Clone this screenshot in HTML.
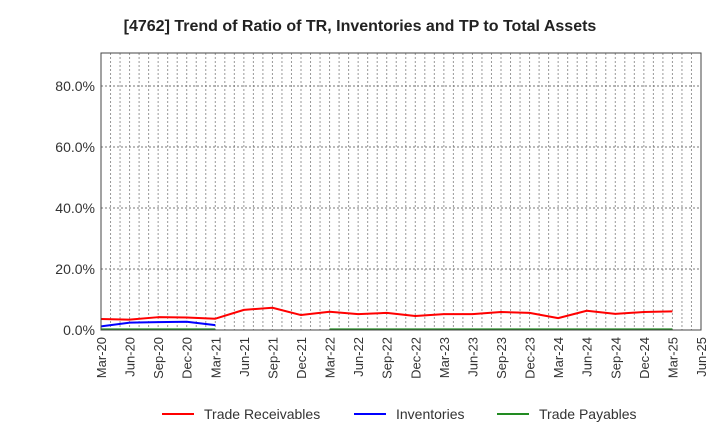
<!DOCTYPE html>
<html><head><meta charset="utf-8"><style>
body{margin:0;background:#fff;font-family:"Liberation Sans",Arial,sans-serif;}
svg text{font-family:"Liberation Sans",Arial,sans-serif;}
</style></head><body>
<svg id="chart" width="720" height="440" viewBox="0 0 720 440">
<text x="360" y="31" text-anchor="middle" font-size="16" font-weight="bold" fill="#222">[4762]  Trend of Ratio of TR, Inventories and TP to Total Assets</text>
<g id="grid"></g>
<g id="yaxis"></g>
<g id="xaxis"></g>
<g id="series"></g>
<rect x="101" y="53" width="600" height="277" fill="none" stroke="#444" stroke-width="1"/>
<g>
<g><line x1="162" y1="414" x2="194" y2="414" stroke="#f00" stroke-width="2"/><text x="204" y="419" font-size="14" fill="#333">Trade Receivables</text></g>
<g><line x1="354" y1="414" x2="386" y2="414" stroke="#00f" stroke-width="2"/><text x="396" y="419" font-size="14" fill="#333">Inventories</text></g>
<g><line x1="497" y1="414" x2="529" y2="414" stroke="#228b22" stroke-width="2"/><text x="539" y="419" font-size="14" fill="#333">Trade Payables</text></g>
</g>
</svg>
<script>
const categories=["Mar-20","Jun-20","Sep-20","Dec-20","Mar-21","Jun-21","Sep-21","Dec-21","Mar-22","Jun-22","Sep-22","Dec-22","Mar-23","Jun-23","Sep-23","Dec-23","Mar-24","Jun-24","Sep-24","Dec-24","Mar-25","Jun-25"];
const yTicks=[0,20,40,60,80];
const tradeReceivables=[3.6,3.4,4.2,4.1,3.7,6.6,7.3,4.9,6.0,5.2,5.6,4.6,5.2,5.2,5.9,5.6,3.9,6.3,5.3,5.9,6.1,null];
const inventories=[1.2,2.4,2.6,2.7,1.6,null,null,null,null,null,null,null,null,null,null,null,null,null,null,null,null,null];
const tradePayables=[0.2,0.2,0.2,0.2,0.2,null,null,null,0.2,0.2,0.2,0.2,0.2,0.2,0.2,0.2,0.2,0.2,0.2,0.2,0.2,null];
const L=101,R=701,T=53,B=330,yMax=90.8;
const x=i=>L+i*(R-L)/(categories.length-1);
const y=v=>B-v/yMax*(B-T);
const NS="http://www.w3.org/2000/svg";
function mk(tag,attrs,parent){const e=document.createElementNS(NS,tag);for(const k in attrs)e.setAttribute(k,attrs[k]);parent.appendChild(e);return e;}
const grid=document.getElementById('grid'),ya=document.getElementById('yaxis'),xa=document.getElementById('xaxis'),sg=document.getElementById('series');
const nMonths=(categories.length-1)*3;
for(let m=1;m<nMonths;m++){const xx=L+m*(R-L)/nMonths;
const gl=mk('line',{x1:xx,x2:xx,y1:T,y2:B,stroke:'#999','stroke-width':1,'stroke-dasharray':'2,2'},grid);

}
yTicks.forEach(t=>{const yy=y(t);
if(t>0){const gl=mk('line',{x1:L,x2:R,y1:yy,y2:yy,stroke:'#777','stroke-width':1,'stroke-dasharray':'2,2'},grid);

}
const tx=mk('text',{x:L-6,y:yy+5,'text-anchor':'end','font-size':14,fill:'#333'},ya);tx.textContent=t.toFixed(1)+'%';

});
categories.forEach((c,i)=>{const xx=x(i);
const tx=mk('text',{x:xx+5,y:337,'text-anchor':'end','font-size':13,fill:'#333',transform:`rotate(-90 ${xx+5} 337)`},xa);tx.textContent=c;

});
function draw(data,color,name){let d='',pen=false;data.forEach((v,i)=>{if(v==null){pen=false;return;}d+=(pen?'L':'M')+x(i)+','+y(v)+' ';pen=true;});
const p=mk('path',{d:d,fill:'none',stroke:color,'stroke-width':2,'stroke-linejoin':'round'},sg);

}
draw(tradePayables,'#228b22','trade-payables-line');
draw(inventories,'#0000ff','inventories-line');
draw(tradeReceivables,'#ff0000','trade-receivables-line');
</script>
</body></html>
